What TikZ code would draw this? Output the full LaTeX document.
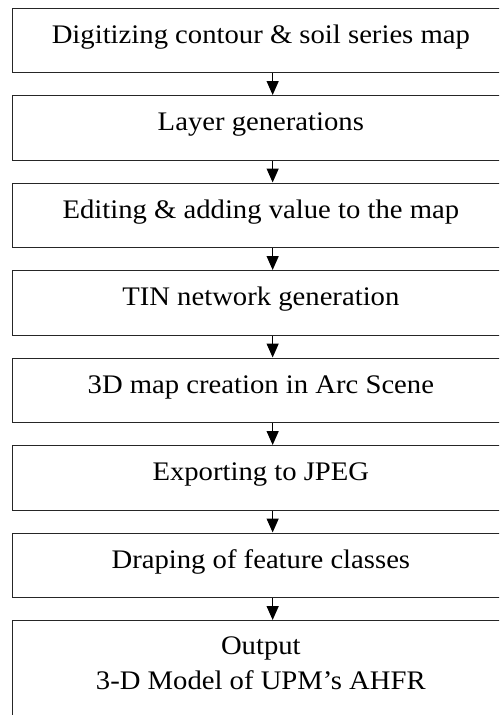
\documentclass[tikz,border=0pt]{standalone}
\usepackage{fontspec}
\setmainfont{Liberation Serif}[FakeStretch=1.07]
\usepackage{tikz}
\usetikzlibrary{positioning,arrows.meta}
\newcommand{\flowfont}{\fontsize{26.8pt}{35pt}\selectfont}
\tikzset{
  stage/.style={draw=black!85, line width=1.3pt, minimum width=497pt,
    minimum height=64.5pt, inner sep=0pt, font=\flowfont,
    text height=13pt, text depth=7.6pt},
  outstage/.style={draw=black!85, line width=1.3pt, minimum width=497pt,
    inner xsep=0pt, inner ysep=16pt, font=\flowfont, align=center,
    text depth=60pt},
  flow/.style={line width=1.3pt, -{Triangle[length=14pt,width=12pt]}},
}

\begin{document}
\begin{tikzpicture}[x=1pt, y=1pt, node distance=21.7pt]
\useasboundingbox (0,0) rectangle (499,-715);
\clip (0,0) rectangle (499,-715);
\node[stage, anchor=north west] (digit) at (11.7,-7.5)
  {Digitizing contour \& soil series map};
\node[stage, below=of digit] (layer) {Layer generations};
\node[stage, below=of layer] (edit) {Editing \& adding value to the map};
\node[stage, below=of edit] (tin) {TIN network generation};
\node[stage, below=of tin] (scene) {3D map creation in Arc Scene};
\node[stage, below=of scene] (jpeg) {Exporting to JPEG};
\node[stage, below=of jpeg] (drape) {Draping of feature classes};
\node[outstage, below=of drape] (output) {Output\\3-D Model of UPM's AHFR};
\foreach \a/\b in {digit/layer, layer/edit, edit/tin, tin/scene,
    scene/jpeg, jpeg/drape, drape/output}
  \draw[flow] ([xshift=11.8pt]\a.south) -- ([xshift=11.8pt]\b.north);
\end{tikzpicture}
\end{document}
